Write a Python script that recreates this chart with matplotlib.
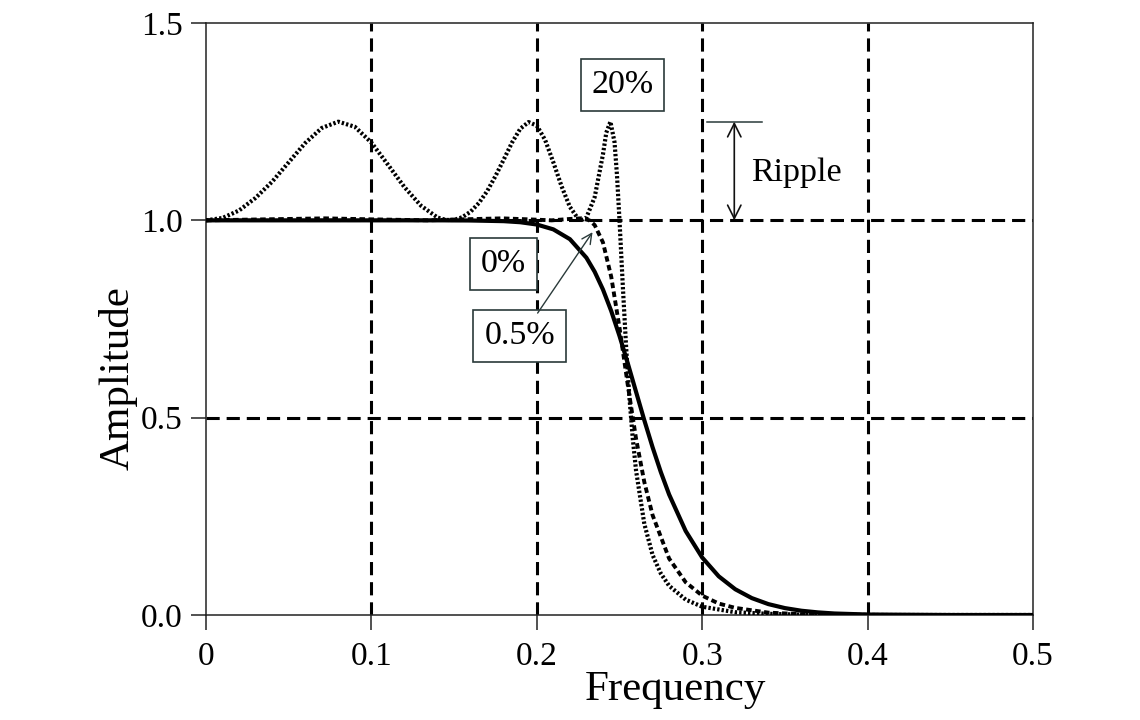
import matplotlib
matplotlib.use('Agg')
import matplotlib.pyplot as plt

# ---------------- data ----------------
# 20% ripple (dotted)
freq_20 = [0.0, 0.01, 0.02, 0.03, 0.04, 0.05, 0.06, 0.07, 0.08, 0.09, 0.10,
           0.11, 0.12, 0.13, 0.14, 0.145, 0.15, 0.155, 0.16, 0.165, 0.17, 0.175,
           0.18, 0.185, 0.19, 0.195, 0.20, 0.205, 0.21, 0.215, 0.22, 0.225,
           0.2268, 0.23, 0.235, 0.24, 0.242, 0.2445, 0.247, 0.2485, 0.25, 0.252,
           0.254, 0.256, 0.258, 0.26, 0.265, 0.27, 0.275, 0.28, 0.29, 0.30,
           0.32, 0.34, 0.36, 0.40, 0.45, 0.50]
amp_20 = [1.000, 1.006, 1.025, 1.057, 1.098, 1.147, 1.196, 1.234, 1.250, 1.237, 1.197,
          1.141, 1.084, 1.037, 1.007, 1.001, 1.001, 1.008, 1.022, 1.044, 1.074, 1.112,
          1.154, 1.197, 1.232, 1.249, 1.240, 1.204, 1.147, 1.086, 1.034, 1.004,
          1.000, 1.007, 1.059, 1.167, 1.222, 1.250, 1.198, 1.113, 1.000, 0.834,
          0.679, 0.551, 0.448, 0.366, 0.231, 0.152, 0.105, 0.074, 0.039, 0.021,
          0.007, 0.003, 0.001, 0.000, 0.000, 0.000]

# 0.5% ripple (dashed)
freq_05 = [0.0, 0.036, 0.072, 0.10, 0.134, 0.155, 0.179, 0.195, 0.209, 0.22,
           0.227, 0.2318, 0.235, 0.24, 0.245, 0.25, 0.255, 0.26, 0.265, 0.27,
           0.28, 0.29, 0.30, 0.31, 0.32, 0.34, 0.36, 0.38, 0.42, 0.50]
amp_05 = [1.000, 1.0025, 1.005, 1.0025, 1.000, 1.0025, 1.005, 1.0025, 1.000, 1.0035,
          1.005, 1.000, 0.988, 0.944, 0.857, 0.728, 0.583, 0.447, 0.337, 0.253,
          0.143, 0.083, 0.049, 0.029, 0.018, 0.006, 0.002, 0.001, 0.000, 0.000]

# 0% ripple (solid)
freq_0 = [0.0, 0.05, 0.10, 0.14, 0.16, 0.18, 0.19, 0.20, 0.21, 0.22, 0.23, 0.235,
          0.24, 0.245, 0.25, 0.255, 0.26, 0.265, 0.27, 0.275, 0.28, 0.29, 0.30,
          0.31, 0.32, 0.33, 0.34, 0.35, 0.36, 0.37, 0.38, 0.40, 0.45, 0.50]
amp_0 = [1.000, 1.000, 1.000, 1.000, 0.9996, 0.9979, 0.9952, 0.9894, 0.9771, 0.9523,
         0.9052, 0.8696, 0.8247, 0.7702, 0.7071, 0.6378, 0.5656, 0.4935, 0.425,
         0.3619, 0.3053, 0.2129, 0.1456, 0.098, 0.0652, 0.0428, 0.0276, 0.0175,
         0.0108, 0.0066, 0.0038, 0.0012, 0.000, 0.000]

x_ticks = [0.0, 0.1, 0.2, 0.3, 0.4, 0.5]
x_tick_labels = ['0', '0.1', '0.2', '0.3', '0.4', '0.5']
y_ticks = [0.0, 0.5, 1.0, 1.5]
y_tick_labels = ['0.0', '0.5', '1.0', '1.5']
grid_x = [0.1, 0.2, 0.3, 0.4]
grid_y = [0.5, 1.0]

# ---------------- figure ----------------
plt.rcParams['font.family'] = ['Liberation Serif', 'DejaVu Serif']
plt.rcParams['lines.scale_dashes'] = False

W, H = 1140, 720
fig = plt.figure(figsize=(W / 100, H / 100), dpi=100)
L, R, T, B = 206, 1033, 23, 615
ax = fig.add_axes([L / W, 1 - B / H, (R - L) / W, (B - T) / H])
ax.set_xlim(0, 0.5)
ax.set_ylim(0, 1.5)

for s in ax.spines.values():
    s.set_linewidth(1.1)
    s.set_color('#222222')

ax.set_xticks(x_ticks)
ax.set_xticklabels(x_tick_labels)
ax.set_yticks(y_ticks)
ax.set_yticklabels(y_tick_labels)
ax.tick_params(direction='out', length=11, width=1.1, color='#222222',
               labelsize=24, pad=6)
ax.tick_params(axis='x', pad=8)

for v in grid_x:
    ax.axvline(v, color='k', lw=2.2, dashes=(9.5, 5), zorder=1)
for v in grid_y:
    ax.axhline(v, color='k', lw=2.2, dashes=(9.5, 5), zorder=1)

ax.plot(freq_20, amp_20, color='k', lw=3.0, dashes=(1.7, 1.5), zorder=3)
ax.plot(freq_05, amp_05, color='k', lw=2.8, dashes=(4, 2.5), zorder=3)
ax.plot(freq_0, amp_0, color='k', lw=3.0, zorder=4)

box = dict(boxstyle='square,pad=0.32', fc='white', ec='#2a3a3a', lw=1.2)
ax.text(0.2518, 1.343, '20%', fontsize=24.5, ha='center', va='center', bbox=box, zorder=6)
ax.text(0.180, 0.889, '0%', fontsize=24.5, ha='center', va='center', bbox=box, zorder=6)
ax.text(0.1896, 0.707, '0.5%', fontsize=24.5, ha='center', va='center', bbox=box, zorder=6)

ax.annotate('', xy=(0.2337, 0.970), xytext=(0.2005, 0.765),
            arrowprops=dict(arrowstyle='->', color='#2a3a3a', lw=1.0,
                            mutation_scale=18, shrinkA=0, shrinkB=0), zorder=6)

# Ripple marker
ax.plot([0.3031, 0.3364], [1.25, 1.25], color='#2a3a3a', lw=1.1, zorder=5)
ax.annotate('', xy=(0.3194, 1.0), xytext=(0.3194, 1.25),
            arrowprops=dict(arrowstyle='<->', color='#111111', lw=1.2,
                            mutation_scale=24, shrinkA=0, shrinkB=0), zorder=5)
ax.text(0.3297, 1.12, 'Ripple', fontsize=24.5, ha='left', va='center', zorder=6)

fig.text(675 / W, 1 - 690 / H, 'Frequency', fontsize=31, ha='center', va='center')
fig.text(118 / W, 1 - 378 / H, 'Amplitude', fontsize=31, ha='center', va='center',
         rotation=90)

fig.savefig('out.png', dpi=100)
